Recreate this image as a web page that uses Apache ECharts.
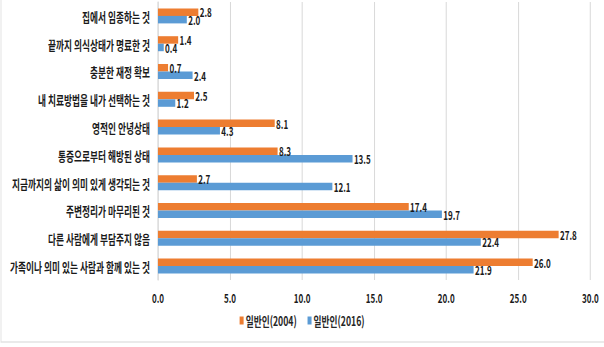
<!DOCTYPE html>
<html>
<head>
<meta charset="utf-8">
<script src="https://cdn.jsdelivr.net/npm/echarts@6/dist/echarts.min.js"></script>
<style>
html,body{margin:0;padding:0;background:#fff;overflow:hidden;}
#chart{width:901.5px;height:347px;transform:scaleX(0.67);transform-origin:0 0;}
</style>
</head>
<body>
<div id="chart"></div>
<script>
const categories = [
  '집에서 임종하는 것',
  '끝까지 의식상태가 명료한 것',
  '충분한 재정 확보',
  '내 치료방법을 내가 선택하는 것',
  '영적인 안녕상태',
  '통증으로부터 해방된 상태',
  '지금까지의 삶이 의미 있게 생각되는 것',
  '주변정리가 마무리된 것',
  '다른 사람에게 부담주지 않음',
  '가족이나 의미 있는 사람과 함께 있는 것'
];
const seriesNames = ['일반인(2004)', '일반인(2016)'];
const values2004 = [2.8, 1.4, 0.7, 2.5, 8.1, 8.3, 2.7, 17.4, 27.8, 26.0];
const values2016 = [2.0, 0.4, 2.4, 1.2, 4.3, 13.5, 12.1, 19.7, 22.4, 21.9];
const xMin = 0, xMax = 30, xStep = 5;

const font = '"Noto Sans CJK KR", "Noto Sans", sans-serif';
const chart = echarts.init(document.getElementById('chart'), null, {renderer: 'svg'});
const labelOpt = {
  show: true, position: 'right', distance: 2,
  color: '#1a1a1a', fontFamily: font, fontSize: 12, fontWeight: 'bold',
  formatter: p => p.value.toFixed(1)
};
chart.setOption({
  animation: false,
  backgroundColor: '#fff',
  graphic: [{
    type: 'rect', silent: true,
    shape: {x: 1.5, y: -2, width: 920, height: 344},
    style: {fill: 'none', stroke: '#e3e3e3', lineWidth: 1.5}
  }],
  legend: {
    data: seriesNames,
    bottom: 15, left: 'center',
    itemWidth: 6, itemHeight: 8, itemGap: 16,
    icon: 'rect',
    textStyle: {fontFamily: font, fontSize: 13, fontWeight: 'bold', color: '#262626', padding: [0,0,0,-2]}
  },
  grid: {left: 235.8, right: 20.9, top: 2, bottom: 67, containLabel: false},
  xAxis: {
    type: 'value', min: xMin, max: xMax, interval: xStep,
    axisLine: {show: false}, axisTick: {show: false},
    splitLine: {show: true, lineStyle: {color: '#d9d9d9', width: 1.5}},
    axisLabel: {
      margin: 12, color: '#1a1a1a', fontFamily: font, fontSize: 12, fontWeight: 'bold',
      formatter: v => v.toFixed(1)
    }
  },
  yAxis: {
    type: 'category', data: categories, inverse: true,
    axisLine: {show: true, lineStyle: {color: '#d9d9d9', width: 1.5}},
    axisTick: {show: false},
    axisLabel: {margin: 12, color: '#1a1a1a', fontFamily: font, fontSize: 13, fontWeight: 'bold'}
  },
  series: [
    {name: seriesNames[0], type: 'bar', data: values2004, barWidth: 7.5, barGap: '0%',
     itemStyle: {color: '#ED7D31'}, label: labelOpt},
    {name: seriesNames[1], type: 'bar', data: values2016, barWidth: 7.5, barGap: '0%',
     itemStyle: {color: '#5B9BD5'}, label: labelOpt}
  ]
});
</script>
</body>
</html>
